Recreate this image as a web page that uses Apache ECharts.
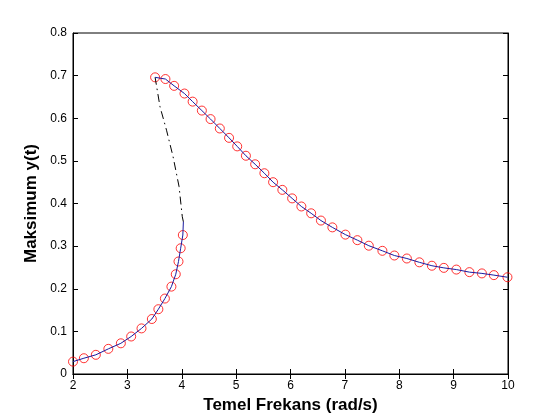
<!DOCTYPE html>
<html>
<head>
<meta charset="utf-8">
<script src="https://cdn.jsdelivr.net/npm/echarts@6/dist/echarts.min.js"></script>
<style>
  html, body { margin: 0; padding: 0; background: #fff; }
  #chart { width: 560px; height: 420px; }
</style>
</head>
<body>
<div id="chart"></div>
<script>
// lower (stable) branch
let lowerFreq = [2.00, 2.20, 2.42, 2.65, 2.88, 3.07, 3.26, 3.45, 3.57, 3.69, 3.81, 3.89, 3.94, 3.98, 4.02];
let lowerAmp  = [0.029, 0.037, 0.045, 0.059, 0.072, 0.088, 0.107, 0.129, 0.152, 0.177, 0.205, 0.234, 0.264, 0.295, 0.326];

// upper (stable) branch
let upperFreq = [3.51, 3.70, 3.86, 4.05, 4.20, 4.37, 4.53, 4.70, 4.87, 5.02, 5.18, 5.35, 5.52, 5.68, 5.85,
                 6.03, 6.20, 6.38, 6.56, 6.77, 7.01, 7.23, 7.44, 7.69, 7.91, 8.14, 8.37, 8.60, 8.82, 9.05,
                 9.29, 9.52, 9.74, 9.99];
let upperAmp  = [0.696, 0.692, 0.676, 0.658, 0.639, 0.618, 0.598, 0.576, 0.554, 0.534, 0.512, 0.492, 0.471, 0.450, 0.432,
                 0.412, 0.393, 0.377, 0.360, 0.344, 0.327, 0.314, 0.301, 0.289, 0.278, 0.271, 0.262, 0.254, 0.249, 0.245,
                 0.239, 0.236, 0.232, 0.227];

// short end of the lower line (no marker)
let lowerTailFreq = [4.03];
let lowerTailAmp  = [0.357];

// unstable branch (dash-dot)
let unstableFreq = [4.03, 4.01, 3.95, 3.84, 3.72, 3.60, 3.51];
let unstableAmp  = [0.357, 0.369, 0.440, 0.510, 0.572, 0.627, 0.696];

let zip = (xs, ys) => xs.map((x, i) => [x, ys[i]]);

let font = 'Liberation Sans, Arial, sans-serif';
let lineBlue = '#1a1aa0';

let options = {
  animation: false,
  backgroundColor: '#fff',
  grid: { left: 73, top: 33, right: 52, bottom: 46, show: true, borderColor: '#000', borderWidth: 1 },
  xAxis: [{
    type: 'value', min: 2, max: 10, interval: 1,
    name: 'Temel Frekans (rad/s)', nameLocation: 'middle', nameGap: 20,
    nameTextStyle: { fontFamily: font, fontSize: 17, fontWeight: 'bold', color: '#000' },
    axisLine: { show: true, lineStyle: { color: '#000', width: 1 } },
    axisTick: { show: true, inside: true, length: 5, lineStyle: { color: '#000' } },
    axisLabel: { fontFamily: font, fontSize: 12, color: '#000', margin: 6 },
    splitLine: { show: false }
  }, {
    type: 'value', min: 2, max: 10, interval: 1, position: 'top',
    axisLine: { show: true, lineStyle: { color: '#000', width: 1 } },
    axisTick: { show: true, inside: true, length: 5, lineStyle: { color: '#000' } },
    axisLabel: { show: false },
    splitLine: { show: false }
  }],
  yAxis: [{
    type: 'value', min: 0, max: 0.8, interval: 0.1,
    name: 'Maksimum y(t)', nameLocation: 'middle', nameGap: 27,
    nameTextStyle: { fontFamily: font, fontSize: 17, fontWeight: 'bold', color: '#000' },
    axisLine: { show: true, lineStyle: { color: '#000', width: 1 } },
    axisTick: { show: true, inside: true, length: 5, lineStyle: { color: '#000' } },
    axisLabel: { fontFamily: font, fontSize: 12, color: '#000', margin: 6 },
    splitLine: { show: false }
  }, {
    type: 'value', min: 0, max: 0.8, interval: 0.1, position: 'right',
    axisLine: { show: true, lineStyle: { color: '#000', width: 1 } },
    axisTick: { show: true, inside: true, length: 5, lineStyle: { color: '#000' } },
    axisLabel: { show: false },
    splitLine: { show: false }
  }],
  series: [
    {
      type: 'line', data: zip(unstableFreq, unstableAmp), showSymbol: false,
      lineStyle: { color: '#000', width: 1, type: [8, 4, 1.5, 4] }
    },
    {
      type: 'line', data: zip(lowerFreq, lowerAmp).concat(zip(lowerTailFreq, lowerTailAmp)), showSymbol: false,
      lineStyle: { color: lineBlue, width: 1 }
    },
    {
      type: 'line', data: zip(upperFreq, upperAmp), showSymbol: false,
      lineStyle: { color: lineBlue, width: 1 }
    },
    {
      type: 'scatter', data: zip(lowerFreq, lowerAmp).concat(zip(upperFreq, upperAmp)),
      symbol: 'circle', symbolSize: 9,
      itemStyle: { color: 'rgba(0,0,0,0)', borderColor: '#ff0000', borderWidth: 1 }
    }
  ]
};

let chart = echarts.init(document.getElementById('chart'));
chart.setOption(options);
</script>
</body>
</html>
